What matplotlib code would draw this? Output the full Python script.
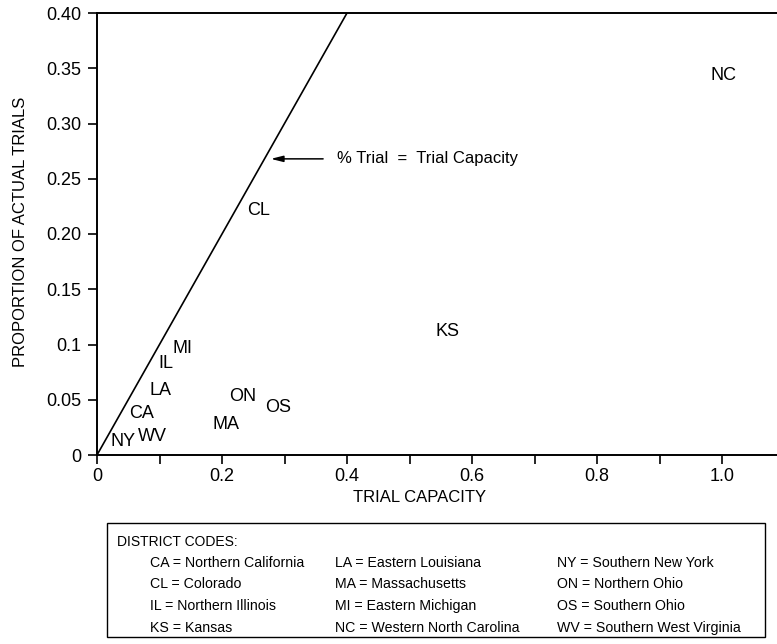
import matplotlib
matplotlib.use("Agg")
import matplotlib.pyplot as plt
from matplotlib.patches import Rectangle

plt.rcParams["font.family"] = ["Liberation Sans", "DejaVu Sans"]

# district codes plotted as text at (trial capacity, proportion of actual trials)
codes = ["CA", "CL", "IL", "KS", "LA", "MA", "MI", "NC", "NY", "ON", "OS", "WV"]
trial_capacity = [0.072, 0.258, 0.111, 0.560, 0.102, 0.207, 0.137, 1.002, 0.042, 0.233, 0.290, 0.088]
proportion_trials = [0.038, 0.221, 0.083, 0.112, 0.058, 0.028, 0.096, 0.343, 0.012, 0.053, 0.043, 0.017]
district_names = [
    "Northern California", "Colorado", "Northern Illinois", "Kansas",
    "Eastern Louisiana", "Massachusetts", "Eastern Michigan", "Western North Carolina",
    "Southern New York", "Northern Ohio", "Southern Ohio", "Southern West Virginia",
]

line_x = [0.0, 0.4]
line_y = [0.0, 0.4]

x_ticks = [0, 0.1, 0.2, 0.3, 0.4, 0.5, 0.6, 0.7, 0.8, 0.9, 1.0]
x_labels = ["0", "", "0.2", "", "0.4", "", "0.6", "", "0.8", "", "1.0"]
y_ticks = [0, 0.05, 0.10, 0.15, 0.20, 0.25, 0.30, 0.35, 0.40]
y_labels = ["0", "0.05", "0.1", "0.15", "0.20", "0.25", "0.30", "0.35", "0.40"]

W, H = 777, 644


def fx(px):
    return px / W


def fy(py):
    return 1 - py / H


fig = plt.figure(figsize=(W / 100, H / 100), dpi=100)
ax = fig.add_axes([fx(97), fy(455), fx(777) - fx(97), fy(13) - fy(455)])

ax.plot(line_x, line_y, color="black", lw=1.2)
for code, x, y in zip(codes, trial_capacity, proportion_trials):
    ax.text(x, y, code, ha="center", va="center", fontsize=13)

ax.annotate(
    "% Trial  =  Trial Capacity",
    xy=(0.278, 0.268),
    xytext=(0.384, 0.268),
    ha="left",
    va="center",
    fontsize=12,
    arrowprops=dict(arrowstyle="-|>,head_length=0.6,head_width=0.15", color="black", lw=1.1,
                    shrinkA=8, shrinkB=0),
)

ax.set_xlim(0, (777 - 97) / 625)
ax.set_ylim(0, 0.40)
ax.set_xticks(x_ticks)
ax.set_xticklabels(x_labels)
ax.set_yticks(y_ticks)
ax.set_yticklabels(y_labels)
ax.tick_params(axis="both", direction="out", length=6.5, width=1.2, labelsize=13, color="black")
ax.tick_params(axis="x", pad=3)
ax.tick_params(axis="y", pad=5)
ax.spines["right"].set_visible(False)
for side in ["left", "bottom", "top"]:
    ax.spines[side].set_linewidth(1.4)

fig.text(fx(420), fy(497), "TRIAL CAPACITY", ha="center", va="center", fontsize=12)
fig.text(fx(21), fy(232), "PROPORTION OF ACTUAL TRIALS", ha="center", va="center",
         rotation=90, fontsize=12)

# district code key
fig.add_artist(Rectangle((fx(107), fy(637)), fx(765) - fx(107), fy(523) - fy(637),
                         transform=fig.transFigure, fill=False, edgecolor="black", lw=1.0))
fig.text(fx(117), fy(542), "DISTRICT CODES:", ha="left", va="center", fontsize=10)
col_x = [150, 335, 557]
row_y = [563, 584, 606, 628]
for i, (code, name) in enumerate(zip(codes, district_names)):
    fig.text(fx(col_x[i // 4]), fy(row_y[i % 4]), f"{code} = {name}",
             ha="left", va="center", fontsize=10.2)

fig.savefig("out.png", dpi=100)
